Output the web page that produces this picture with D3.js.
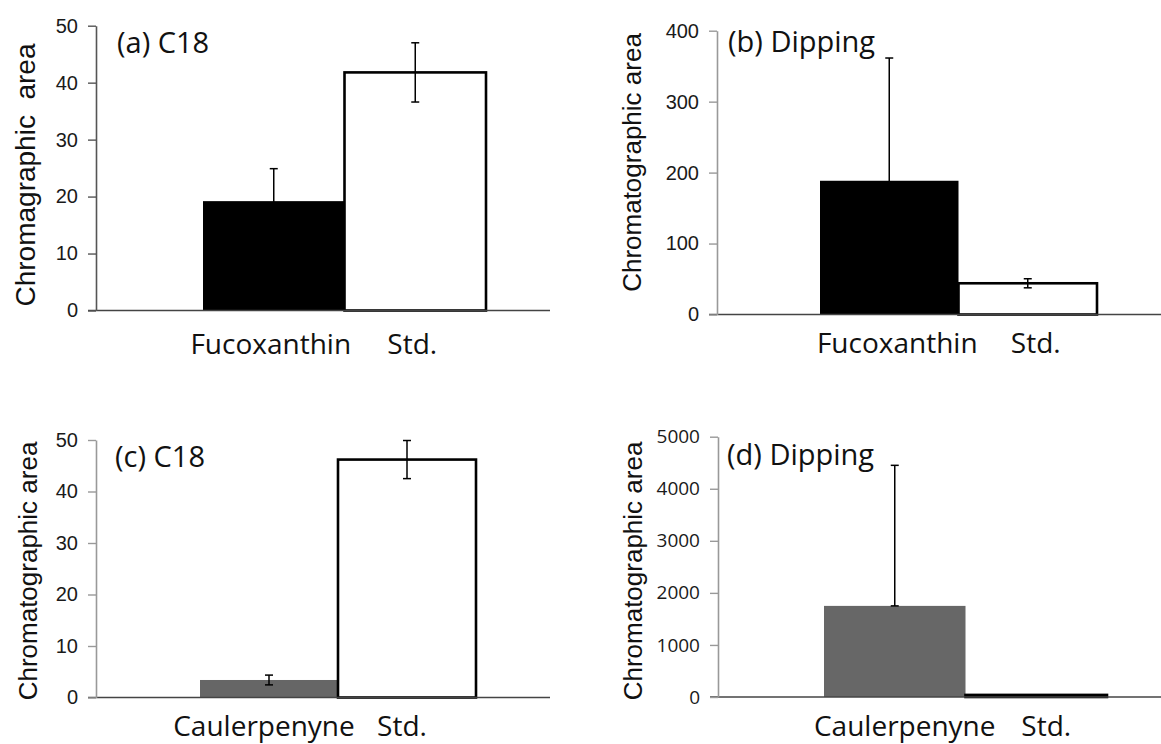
<!DOCTYPE html>
<html>
<head>
<meta charset="utf-8">
<script src="https://cdn.jsdelivr.net/npm/d3@7"></script>
<style>
  html, body { margin: 0; padding: 0; background: #fff; }
  svg { display: block; }
</style>
</head>
<body>
<svg id="fig" width="1161" height="744"></svg>
<script>
// ---- data -------------------------------------------------------------
const panelTitles = ["(a) C18", "(b) Dipping", "(c) C18", "(d) Dipping"];
const yAxisTitles = ["Chromagraphic  area", "Chromatographic area", "Chromatographic area", "Chromatographic area"];

const categoriesFuco = ["Fucoxanthin", "Std."];
const categoriesCaul = ["Caulerpenyne", "Std."];

const valuesA = [19.2, 41.8];
const errPlusA = [5.7, 5.2];
const errMinusA = [5.7, 5.2];

const valuesB = [188.5, 44];
const errPlusB = [173, 6.4];
const errMinusB = [173, 6.4];

const valuesC = [3.4, 46.2];
const errPlusC = [0.95, 3.7];
const errMinusC = [0.95, 3.7];

const valuesD = [1750, 40];
const errPlusD = [2700, 0];
const errMinusD = [0, 0];

const ticksA = [0, 10, 20, 30, 40, 50];
const ticksB = [0, 100, 200, 300, 400];
const ticksC = [0, 10, 20, 30, 40, 50];
const ticksD = [0, 1000, 2000, 3000, 4000, 5000];

// ---- layout & style ---------------------------------------------------
const panels = [
  { title: panelTitles[0], yTitle: yAxisTitles[0], cats: categoriesFuco, vals: valuesA, ep: errPlusA, em: errMinusA, ticks: ticksA,
    fills: ["#000", "#fff"], yMax: 50,
    axisX: 96, y0: 310.5, yTop: 25.7, xFrom: 88, xTo: 550, barFrom: 203, barTo: 486,
    titleX: 117, titleY: 52.5, labelY: 354, labelShift: -3,
    yTitleX: 35, yTitleY: 175, yTitleSize: 28, yAxisColor: "#555",
    tickFont: "Liberation Sans, Arial, sans-serif", tickSize: 20 },
  { title: panelTitles[1], yTitle: yAxisTitles[1], cats: categoriesFuco, vals: valuesB, ep: errPlusB, em: errMinusB, ticks: ticksB,
    fills: ["#000", "#fff"], yMax: 400,
    axisX: 717, y0: 314.5, yTop: 30.7, xFrom: 709, xTo: 1161, barFrom: 820, barTo: 1097,
    titleX: 728, titleY: 52, labelY: 353, labelShift: 8,
    yTitleX: 641, yTitleY: 162.5, yTitleSize: 26, yAxisColor: "#999",
    tickFont: "Liberation Sans, Arial, sans-serif", tickSize: 20 },
  { title: panelTitles[2], yTitle: yAxisTitles[2], cats: categoriesCaul, vals: valuesC, ep: errPlusC, em: errMinusC, ticks: ticksC,
    fills: ["#666", "#fff"], yMax: 50,
    axisX: 96, y0: 697.5, yTop: 440, xFrom: 88, xTo: 550, barFrom: 200, barTo: 476,
    titleX: 115, titleY: 466.5, labelY: 736, labelShift: -5,
    yTitleX: 37, yTitleY: 571, yTitleSize: 26, yAxisColor: "#999",
    tickFont: "Liberation Sans, Arial, sans-serif", tickSize: 20 },
  { title: panelTitles[3], yTitle: yAxisTitles[3], cats: categoriesCaul, vals: valuesD, ep: errPlusD, em: errMinusD, ticks: ticksD,
    fills: ["#676767", "#fff"], yMax: 5000,
    axisX: 718, y0: 697, yTop: 436.7, xFrom: 710, xTo: 1161, barFrom: 824, barTo: 1107,
    titleX: 727, titleY: 465, labelY: 736, labelShift: 10,
    yTitleX: 641.5, yTitleY: 571, yTitleSize: 26, yAxisColor: "#999",
    tickFont: "Open Sans, sans-serif", tickSize: 19 }
];

const svg = d3.select("#fig");
const textFont = "Open Sans, sans-serif";

panels.forEach(p => {
  const g = svg.append("g");

  const y = d3.scaleLinear().domain([0, p.yMax]).range([p.y0, p.yTop]);
  const x = d3.scaleBand().domain(p.cats).range([p.barFrom, p.barTo]).padding(0);
  const rows = p.cats.map((c, i) => ({ cat: c, v: p.vals[i], ep: p.ep[i], em: p.em[i], fill: p.fills[i] }));

  // bars
  g.selectAll("rect.bar").data(rows).join("rect")
    .attr("class", "bar")
    .attr("x", d => x(d.cat))
    .attr("width", x.bandwidth())
    .attr("y", d => y(d.v))
    .attr("height", d => y(0) - y(d.v))
    .attr("fill", d => d.fill)
    .attr("stroke", d => d.fill === "#fff" ? "#000" : "none")
    .attr("stroke-width", 2.6);

  // category axis line
  g.append("line")
    .attr("x1", p.xFrom).attr("x2", p.xTo)
    .attr("y1", y(0)).attr("y2", y(0))
    .attr("stroke", "#444").attr("stroke-width", 1.6);

  // value axis
  const ya = g.append("g")
    .attr("transform", `translate(${p.axisX},0)`)
    .call(d3.axisLeft(y).tickValues(p.ticks).tickSize(8).tickSizeOuter(0).tickPadding(10).tickFormat(d3.format("d")));
  ya.select(".domain").attr("stroke", p.yAxisColor).attr("stroke-width", 1.6);
  ya.selectAll(".tick line").attr("stroke", p.yAxisColor).attr("stroke-width", 1.4);
  ya.selectAll(".tick text")
    .attr("font-family", p.tickFont)
    .attr("font-size", p.tickSize)
    .attr("fill", "#1a1a1a");

  // error bars
  const cap = 4;
  const eb = g.selectAll("g.err").data(rows.filter(d => d.ep > 0 || d.em > 0)).join("g").attr("class", "err");
  eb.append("line")
    .attr("x1", d => x(d.cat) + x.bandwidth() / 2).attr("x2", d => x(d.cat) + x.bandwidth() / 2)
    .attr("y1", d => y(d.v + d.ep)).attr("y2", d => y(d.v - d.em))
    .attr("stroke", "#000").attr("stroke-width", 1.5);
  eb.append("line")
    .attr("x1", d => x(d.cat) + x.bandwidth() / 2 - cap).attr("x2", d => x(d.cat) + x.bandwidth() / 2 + cap)
    .attr("y1", d => y(d.v + d.ep)).attr("y2", d => y(d.v + d.ep))
    .attr("stroke", "#000").attr("stroke-width", 1.5);
  eb.append("line")
    .attr("x1", d => x(d.cat) + x.bandwidth() / 2 - cap).attr("x2", d => x(d.cat) + x.bandwidth() / 2 + cap)
    .attr("y1", d => y(d.v - d.em)).attr("y2", d => y(d.v - d.em))
    .attr("stroke", "#000").attr("stroke-width", 1.5);

  // category labels
  g.selectAll("text.cat").data(p.cats).join("text")
    .attr("class", "cat")
    .attr("x", d => x(d) + x.bandwidth() / 2 + p.labelShift)
    .attr("y", p.labelY)
    .attr("text-anchor", "middle")
    .attr("font-family", textFont)
    .attr("font-size", 28)
    .attr("fill", "#111")
    .text(d => d);

  // panel title
  g.append("text")
    .attr("x", p.titleX).attr("y", p.titleY)
    .attr("font-family", textFont)
    .attr("font-size", 29)
    .attr("fill", "#111")
    .text(p.title);

  // value axis title
  g.append("text")
    .attr("transform", `translate(${p.yTitleX},${p.yTitleY}) rotate(-90)`)
    .attr("text-anchor", "middle")
    .style("white-space", "pre")
    .attr("font-family", "Liberation Sans, Arial, sans-serif")
    .attr("font-size", p.yTitleSize)
    .attr("fill", "#111")
    .text(p.yTitle);
});
</script>
</body>
</html>
